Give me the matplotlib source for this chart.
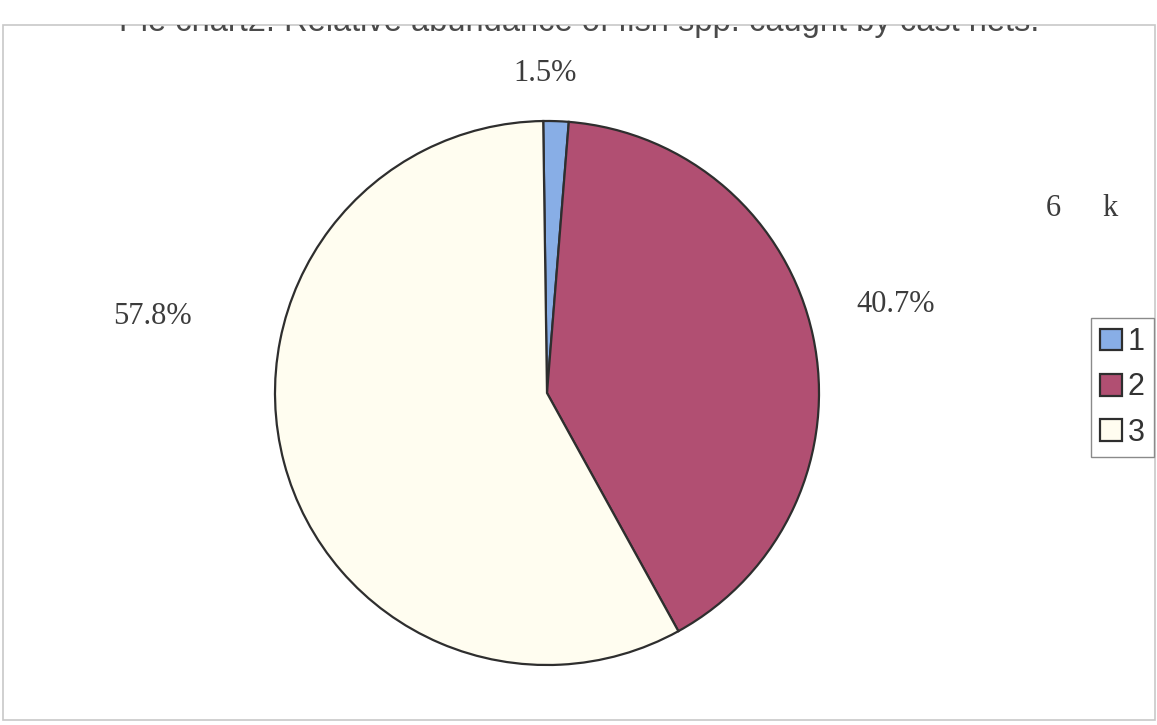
import matplotlib.pyplot as plt
from matplotlib.patches import Rectangle

# data
categories = ['1', '2', '3']
shares = [1.5, 40.7, 57.8]
pct_labels = ['1.5%', '40.7%', '57.8%']
colors = ['#88aee6', '#b14f72', '#fffdf0']
title = 'Pie chart2. Relative abundance of fish spp. caught by cast nets.'

W, H = 1157, 725
fig = plt.figure(figsize=(W / 100, H / 100), dpi=100)

# outer frame of the scanned chart area (title is cut off by its top edge)
frame = fig.add_axes([3 / W, 5 / H, 1152 / W, 695 / H])
frame.axis('off')
frame.add_patch(Rectangle((0, 0), 1, 1, transform=frame.transAxes, fill=False,
                          edgecolor='#c8c8c8', linewidth=1.2, clip_on=False))
frame.text(0.5, 1 - 6.5 / 695, title, transform=frame.transAxes, ha='center',
           va='baseline', fontsize=23.5, family='Liberation Sans', color='#4a4a4a',
           clip_on=True)

# pie: centre (547, 393) px, radius 272 px
r = 272
pie_ax = fig.add_axes([(547 - r) / W, (H - 393 - r) / H, 2 * r / W, 2 * r / H])
wedges, texts = pie_ax.pie(shares, colors=colors, startangle=90.8, counterclock=False,
                           labels=pct_labels, labeldistance=1.2,
                           wedgeprops=dict(edgecolor='#2e2e2e', linewidth=1.6),
                           textprops=dict(fontsize=22, family='Liberation Serif',
                                          color='#3c3c3c'))
pie_ax.set_xlim(-1, 1)
pie_ax.set_ylim(-1, 1)
pie_ax.axis('off')

# label positions as in the original (in pie radius units)
label_pos = [(-0.007, 1.176), (1.28, 0.324), (-1.452, 0.283)]
for t, (x, y) in zip(texts, label_pos):
    t.set_position((x, y))
    t.set_ha('center')
    t.set_va('center')

# stray text from the scan
fig.text(1053 / W, 1 - 208 / H, '6', ha='center', va='center', fontsize=22,
         family='Liberation Serif', color='#3c3c3c')
fig.text(1110 / W, 1 - 208 / H, 'k', ha='center', va='center', fontsize=22,
         family='Liberation Serif', color='#3c3c3c')

leg = fig.legend(wedges, categories, loc='upper right',
                 bbox_to_anchor=(1154 / W, 1 - 318 / H), borderaxespad=0,
                 prop=dict(family='Liberation Sans', size=22), fancybox=False,
                 edgecolor='#8a8a8a', framealpha=1, handlelength=0.72,
                 handleheight=0.72, handletextpad=0.2, labelspacing=0.5,
                 borderpad=0.3)
leg.get_frame().set_linewidth(1.0)
for txt in leg.get_texts():
    txt.set_color('#333333')

fig.savefig('out.png', dpi=100)
